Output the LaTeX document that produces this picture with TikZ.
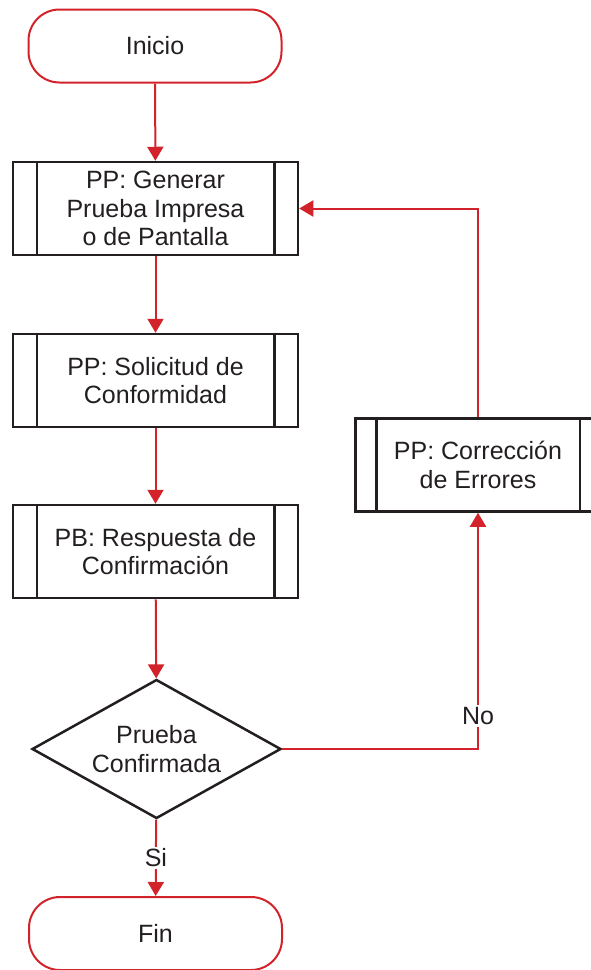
\documentclass[tikz,border=0pt]{standalone}
\usepackage{fontspec}
\setmainfont{Liberation Sans}
\usetikzlibrary{arrows.meta,shapes.geometric}
\definecolor{flred}{HTML}{D2232A}
\definecolor{flblack}{HTML}{231F20}
\tikzset{
  txt/.style={font=\fontsize{25}{28.5}\selectfont, text=flblack, align=center},
  term/.style={txt, draw=flred, line width=2pt, rounded corners=31pt, minimum width=253pt, minimum height=73pt},
  subproc/.style={txt, draw=flblack, line width=2.5pt, minimum width=285pt, minimum height=93pt, inner sep=0pt},
  decision/.style={txt, diamond, aspect=1.8, draw=flblack, line width=2.5pt, minimum width=249pt, minimum height=139pt, inner sep=0pt},
  conn/.style={draw=flred, line width=2pt, -{Triangle[width=16pt,length=14pt]}},
  lbl/.style={txt, fill=white, inner sep=2pt}
}
\begin{document}
\begin{tikzpicture}[x=1pt,y=-1pt]
\useasboundingbox (0,0) rectangle (590,970);
\node[term] (ini) at (155,46) {Inicio};
\node[subproc] (b1) at (155.5,208.5) {PP: Generar\\Prueba Impresa\\o de Pantalla};
\node[subproc] (b2) at (155.5,380.5) {PP: Solicitud de\\Conformidad};
\node[subproc] (b3) at (155.5,551.5) {PB: Respuesta de\\Confirmación};
\node[decision] (dec) at (156.5,749) {Prueba\\Confirmada};
\node[subproc, minimum width=245pt] (cor) at (478,465) {PP: Corrección\\de Errores};
\node[term] (fin) at (155.5,933.5) {Fin};
% inner lines of subprocess boxes
\foreach \n in {b1,b2,b3}{
  \draw[flblack, line width=2.5pt] ([xshift=25pt]\n.north west) -- ([xshift=25pt]\n.south west);
  \draw[flblack, line width=2.5pt] ([xshift=-25pt]\n.north east) -- ([xshift=-25pt]\n.south east);
}
\draw[flblack, line width=2.5pt] ([xshift=22pt]cor.north west) -- ([xshift=22pt]cor.south west);
\draw[flblack, line width=2.5pt] ([xshift=-22pt]cor.north east) -- ([xshift=-22pt]cor.south east);
% connectors
\draw[conn] (ini) -- (b1);
\draw[conn] (b1) -- (b2);
\draw[conn] (b2) -- (b3);
\draw[conn] (b3) -- (dec);
\draw[conn] (dec) -- node[lbl] {Si} (fin);
\draw[conn] (dec.east) -| node[lbl, pos=0.57] {No} (cor.south);
\draw[conn] (cor.north) |- (b1.east);
\end{tikzpicture}
\end{document}
